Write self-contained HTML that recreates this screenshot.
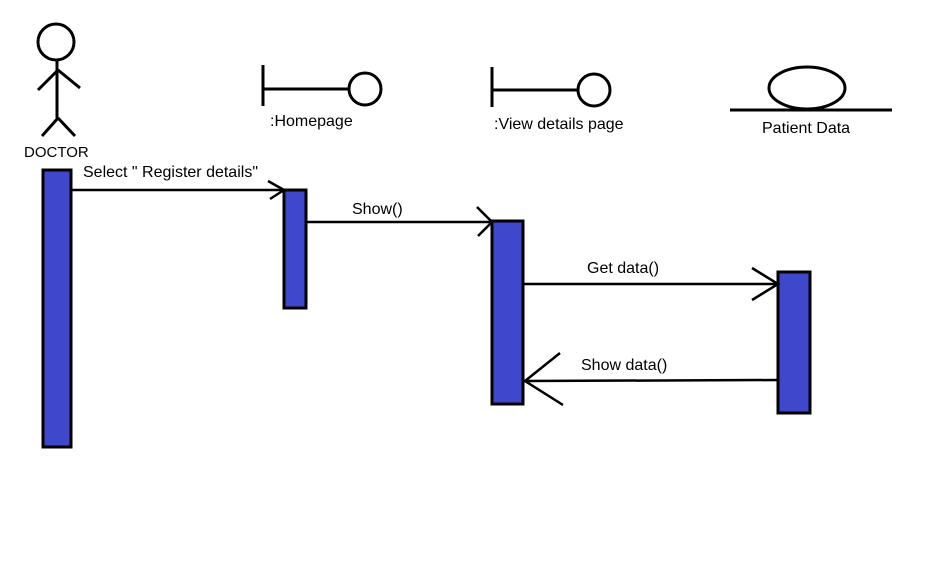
<!DOCTYPE html>
<html><head><meta charset="utf-8"><style>
html,body{margin:0;padding:0;background:#fff;}
svg{display:block;}
text{font-family:"Liberation Sans",sans-serif;font-size:16px;fill:#000;}
</style></head><body>
<svg width="944" height="568" viewBox="0 0 944 568">
<rect width="944" height="568" fill="#fff"/>
<g stroke="#000" stroke-width="3" fill="none">
  <circle cx="56" cy="42" r="18"/>
  <line x1="57" y1="60" x2="57" y2="118"/>
  <line x1="38" y1="90" x2="58" y2="70"/>
  <line x1="58" y1="70" x2="80" y2="88"/>
  <line x1="42" y1="136" x2="58" y2="118"/>
  <line x1="58" y1="118" x2="75" y2="136"/>
</g>
<text x="24" y="157" style="font-size:15px">DOCTOR</text>

<g stroke="#000" stroke-width="3" fill="none">
  <line x1="263" y1="65" x2="263" y2="106"/>
  <line x1="263" y1="89" x2="349" y2="89"/>
  <circle cx="365" cy="89" r="16"/>
</g>
<text x="270" y="126">:Homepage</text>

<g stroke="#000" stroke-width="3" fill="none">
  <line x1="492" y1="67" x2="492" y2="107"/>
  <line x1="492" y1="90" x2="578" y2="90"/>
  <circle cx="594" cy="90" r="16"/>
</g>
<text x="494" y="129">:View details page</text>

<g stroke="#000" stroke-width="3" fill="none">
  <ellipse cx="807" cy="88" rx="38" ry="21"/>
  <line x1="730" y1="110" x2="892" y2="110"/>
</g>
<text x="762" y="133">Patient Data</text>

<g stroke="#000" stroke-width="3" fill="#3f48cc">
  <rect x="43" y="170" width="28" height="277"/>
  <rect x="284" y="190" width="22" height="118"/>
  <rect x="492" y="221" width="31" height="183"/>
  <rect x="778" y="272" width="32" height="141"/>
</g>

<g stroke="#000" stroke-width="2.5" fill="none">
  <g>
    <line x1="71" y1="190" x2="284" y2="190"/>
    <polyline points="268,181 284,190 270,199"/>
  </g>
  <g>
    <line x1="306" y1="222" x2="492" y2="222"/>
    <polyline points="477,207 492,222 478,236"/>
  </g>
  <g>
    <line x1="523" y1="284" x2="778" y2="284"/>
    <polyline points="752,268 778,284 752,300"/>
  </g>
  <g>
    <line x1="778" y1="380" x2="525" y2="381"/>
    <polyline points="560,353 525,381 563,405"/>
  </g>
</g>
<text x="83" y="177">Select " Register details"</text>
<text x="352" y="214">Show()</text>
<text x="587" y="273">Get data()</text>
<text x="581" y="370">Show data()</text>
</svg>
</body></html>
